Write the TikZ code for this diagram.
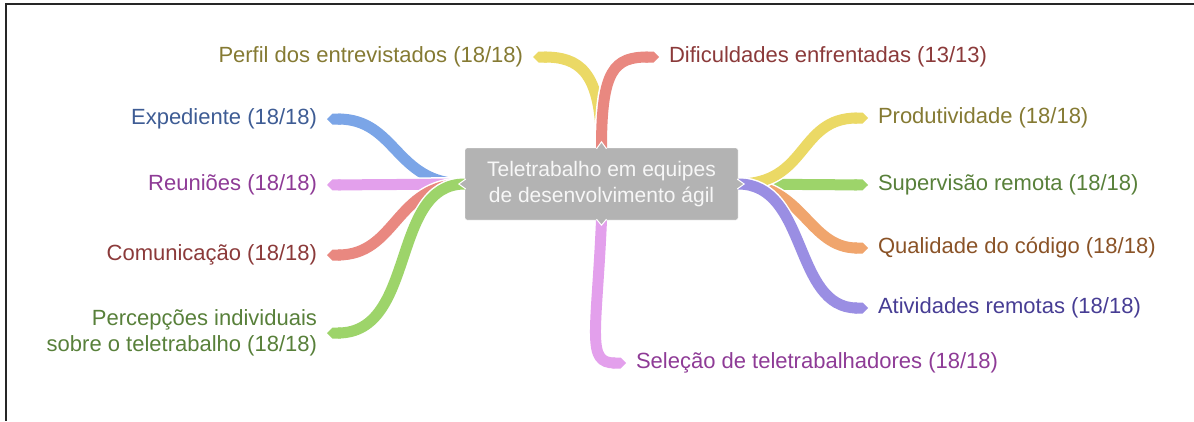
\documentclass[tikz,border=0pt]{standalone}
\usepackage{fontspec}
\setmainfont{Liberation Sans}
\usetikzlibrary{arrows.meta}

\definecolor{caixa}{HTML}{B3B3B3}
\definecolor{ramoamarelo}{HTML}{EBD965}
\definecolor{ramovermelho}{HTML}{E98880}
\definecolor{ramoazul}{HTML}{7BA5E7}
\definecolor{ramorosa}{HTML}{E3A0EC}
\definecolor{ramoverde}{HTML}{9DD46A}
\definecolor{ramolaranja}{HTML}{F0A56D}
\definecolor{ramoroxo}{HTML}{9A8EE3}
\definecolor{txtoliva}{HTML}{857A33}
\definecolor{txtazul}{HTML}{3E5C94}
\definecolor{txtrosa}{HTML}{8E3B96}
\definecolor{txtvermelho}{HTML}{8B3A3A}
\definecolor{txtverde}{HTML}{58803A}
\definecolor{txtmarrom}{HTML}{8A5327}
\definecolor{txtroxo}{HTML}{473D94}

\begin{document}
\begin{tikzpicture}[x=1pt, y=-1pt,
    ramo/.style={line width=11pt, -{Triangle Cap}, preaction={draw=white, line width=14pt}},
    rotulo/.style={inner sep=0pt, outer xsep=10pt, font=\fontsize{22}{26}\selectfont},
    tema/.style={rounded corners=2pt, minimum width=273pt, minimum height=72pt,
      align=center, inner sep=0pt, text=white!94!gray, font=\fontsize{21}{26}\selectfont},
    ponta/.style={fill=caixa, draw=white, line width=1pt}]
	%%%%% START %%%%%
	\useasboundingbox (0,0) rectangle (1194,421);
	\draw[line width=2pt, color=black!85] (1194,4) -- (6,4) -- (6,421);
	
	% so a posicao da caixa central, desenhada no fim
	\path (601.5,184) node[tema] (tema) {};
	
	% rotulos
	\node[rotulo, anchor=east, text=txtoliva] (perfil) at (533,57) {Perfil dos entrevistados (18/18)};
	\node[rotulo, anchor=west, text=txtvermelho] (dific) at (659,57) {Dificuldades enfrentadas (13/13)};
	\node[rotulo, anchor=east, text=txtazul] (exped) at (327,119) {Expediente (18/18)};
	\node[rotulo, anchor=east, text=txtrosa] (reun) at (327,185) {Reuniões (18/18)};
	\node[rotulo, anchor=east, text=txtvermelho] (comun) at (327,255) {Comunicação (18/18)};
	\node[rotulo, anchor=east, text=txtverde, align=right] (percep) at (327,333) {Percepções individuais\\sobre o teletrabalho (18/18)};
	\node[rotulo, anchor=west, text=txtoliva] (produt) at (868,118) {Produtividade (18/18)};
	\node[rotulo, anchor=west, text=txtverde] (superv) at (868,185) {Supervisão remota (18/18)};
	\node[rotulo, anchor=west, text=txtmarrom] (qualid) at (868,248) {Qualidade do código (18/18)};
	\node[rotulo, anchor=west, text=txtroxo] (ativid) at (868,308) {Atividades remotas (18/18)};
	\node[rotulo, anchor=west, text=txtrosa] (selecao) at (626,363) {Seleção de teletrabalhadores (18/18)};
	
	% ramos de cima
	\draw[ramo, color=ramoamarelo] (tema.north) .. controls +(0,-78) and +(45,0) .. (perfil.east);
	\draw[ramo, color=ramovermelho] (tema.north) .. controls +(0,-78) and +(-45,0) .. (dific.west);
	
	% ramos da esquerda
	\draw[ramo, color=ramoazul] (tema.west) .. controls +(-70,0) and +(70,0) .. (exped.east);
	\draw[ramo, color=ramorosa] (tema.west) -- (reun.east);
	\draw[ramo, color=ramovermelho] (tema.west) .. controls +(-70,0) and +(70,0) .. (comun.east);
	\draw[ramo, color=ramoverde] (tema.west) .. controls +(-75,0) and +(90,0) .. (percep.east);
	
	% ramos da direita
	\draw[ramo, color=ramoverde] (tema.east) -- (superv.west);
	\draw[ramo, color=ramolaranja] (tema.east) .. controls +(65,0) and +(-60,0) .. (qualid.west);
	\draw[ramo, color=ramoamarelo] (tema.east) .. controls +(70,0) and +(-70,0) .. (produt.west);
	\draw[ramo, color=ramoroxo] (tema.east) .. controls +(70,0) and +(-75,0) .. (ativid.west);
	
	% ramo de baixo
	\draw[ramo, color=ramorosa] (tema.south) .. controls +(-5,115) and +(-40,0) .. (selecao.west);
	
	% caixa central por cima
	\node[tema, fill=caixa, draw=white] at (tema.center) {Teletrabalho em equipes\\de desenvolvimento ágil};
	\draw[ponta] (tema.north) ++(-5,1) -- ++(5,-7) -- ++(5,7);
	\draw[ponta] (tema.south) ++(-5,-1) -- ++(5,6) -- ++(5,-6);
	\draw[ponta] (tema.west) ++(1,-5) -- ++(-7,5) -- ++(7,5);
	\draw[ponta] (tema.east) ++(-1,-5) -- ++(7,5) -- ++(-7,5);
	%%%%% END %%%%%
\end{tikzpicture}
\end{document}
